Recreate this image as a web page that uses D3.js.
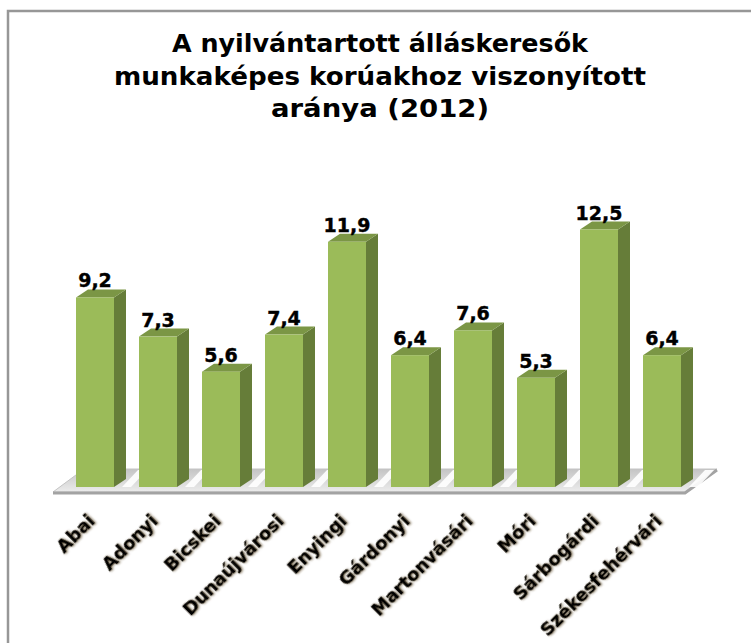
<!DOCTYPE html>
<html>
<head>
<meta charset="utf-8">
<script src="https://cdn.jsdelivr.net/npm/d3@7"></script>
<style>
  body { margin: 0; background: #fff; }
  text { font-family: "DejaVu Sans", Verdana, sans-serif; font-weight: bold; }
</style>
</head>
<body>
<div id="chart"></div>
<script>
// chart data
var categories = ["Abai", "Adonyi", "Bicskei", "Dunaújvárosi", "Enyingi", "Gárdonyi",
  "Martonvásári", "Móri", "Sárbogárdi", "Székesfehérvári"];
var values = [9.2, 7.3, 5.6, 7.4, 11.9, 6.4, 7.6, 5.3, 12.5, 6.4];
var valueLabels = ["9,2", "7,3", "5,6", "7,4", "11,9", "6,4", "7,6", "5,3", "12,5", "6,4"];
var titleLines = ["A nyilvántartott álláskeresők", "munkaképes korúakhoz viszonyított", "aránya (2012)"];

var width = 751, height = 643;
var base = 487;          // floor level of bar fronts
var depth = {x: 12, y: -8};

var svg = d3.select("#chart").append("svg")
  .attr("width", width).attr("height", height);

var defs = svg.append("defs");
var fl = defs.append("filter").attr("id", "shadow").attr("x", "-20%").attr("y", "-20%")
  .attr("width", "140%").attr("height", "140%");
fl.append("feDropShadow").attr("dx", 1).attr("dy", 1).attr("stdDeviation", 0.9)
  .attr("flood-color", "#7a6a50").attr("flood-opacity", 0.8);

var floorGrad = defs.append("linearGradient").attr("id", "floorGrad")
  .attr("x1", 0).attr("y1", 0).attr("x2", 0).attr("y2", 1);
floorGrad.append("stop").attr("offset", "0%").attr("stop-color", "#c4c4c4");
floorGrad.append("stop").attr("offset", "100%").attr("stop-color", "#ececec");

// outer frame
svg.append("rect").attr("x", 8).attr("y", 11).attr("width", 800).attr("height", 700)
  .attr("fill", "none").attr("stroke", "#979797").attr("stroke-width", 2.5);

// title
var lineWidths = [416, 532, 218];
svg.append("g").selectAll("text").data(titleLines).join("text")
  .attr("x", 380).attr("y", (d, i) => 52 + i * 32.5)
  .attr("text-anchor", "middle")
  .attr("font-size", 25)
  .attr("fill", "#000")
  .attr("textLength", (d, i) => lineWidths[i])
  .attr("lengthAdjust", "spacingAndGlyphs")
  .text(d => d);

var x = d3.scaleBand().domain(categories).range([76, 681]).paddingInner(25 / 63).paddingOuter(0);
var y = d3.scaleLinear().domain([0, 14]).range([base, base - 14 * 20.6]);

// floor
var x0 = x.range()[0], x1 = x.range()[1];
var floorFront = base + 5, floorBack = base - 18;
svg.append("polygon")
  .attr("points", [[x0 - 23, floorFront], [x1 + 4, floorFront], [x1 + 36, floorBack], [x0 + 8, floorBack]].join(" "))
  .attr("fill", "url(#floorGrad)").attr("stroke", "#c4c4c4").attr("stroke-width", 1);
svg.append("path")
  .attr("d", `M${x0 - 23},${floorFront + 1}H${x1 + 4}L${x1 + 36},${floorBack + 1}`)
  .attr("fill", "none").attr("stroke", "#a3a3a3").attr("stroke-width", 3);

// white glare stripes on the floor
svg.append("g").selectAll("polygon").data(categories).join("polygon")
  .attr("points", d => {
    var s = x(d) + x.bandwidth() + 8;
    return [[s, base], [s + 9, base], [s + 25, floorBack + 1], [s + 16, floorBack + 1]].join(" ");
  })
  .attr("fill", "#fff").attr("opacity", 0.9);

// bars
var bars = svg.append("g").selectAll("g").data(categories).join("g");
bars.append("polygon") // side
  .attr("points", (d, i) => {
    var r = x(d) + x.bandwidth(), t = y(values[i]);
    return [[r, t], [r + depth.x, t + depth.y], [r + depth.x, base + depth.y], [r, base]].join(" ");
  })
  .attr("fill", "#667d39");
bars.append("polygon") // top
  .attr("points", (d, i) => {
    var l = x(d), r = l + x.bandwidth(), t = y(values[i]);
    return [[l, t], [l + depth.x, t + depth.y], [r + depth.x, t + depth.y], [r, t]].join(" ");
  })
  .attr("fill", "#7b9645");
bars.append("rect") // front
  .attr("x", d => x(d)).attr("width", x.bandwidth())
  .attr("y", (d, i) => y(values[i])).attr("height", (d, i) => base - y(values[i]))
  .attr("fill", "#9bbb59");

// value labels
svg.append("g").selectAll("text").data(categories).join("text")
  .attr("x", d => x(d) + x.bandwidth() / 2)
  .attr("y", (d, i) => y(values[i]) - 10)
  .attr("text-anchor", "middle")
  .attr("font-size", 19)
  .attr("stroke", "#000").attr("stroke-width", 0.4)
  .text((d, i) => valueLabels[i]);

// category labels
svg.append("g").selectAll("text").data(categories).join("text")
  .attr("transform", d => `translate(${x(d) + x.bandwidth() / 2 + 1},522) rotate(-45)`)
  .attr("text-anchor", "end")
  .attr("font-size", 18)
  .attr("stroke", "#000").attr("stroke-width", 0.4)
  .attr("filter", "url(#shadow)")
  .text(d => d);
</script>
</body>
</html>
